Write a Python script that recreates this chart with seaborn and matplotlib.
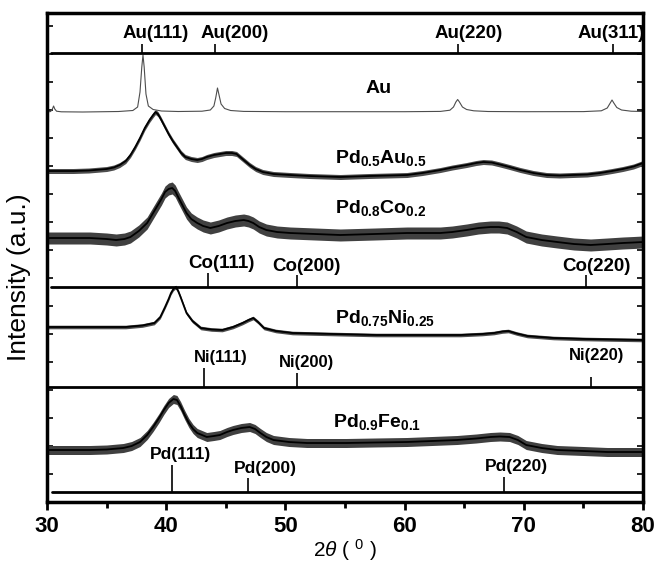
import numpy as np
import pandas as pd
import matplotlib
matplotlib.use('Agg')
import matplotlib.pyplot as plt
from matplotlib.ticker import MultipleLocator
import seaborn as sns

# ---- data (2theta in degrees, intensity above own baseline, a.u.) ----
au_2theta = [30.0, 30.3, 30.45, 30.55, 30.65, 30.8, 31.2, 33.0, 36.0, 37.2, 37.6, 37.8, 37.95,
             38.05, 38.15, 38.3, 38.5, 38.9, 39.6, 41.0, 43.0, 43.7, 44.0, 44.15, 44.3, 44.45,
             44.6, 44.9, 45.4, 46.5, 50.0, 55.0, 60.0, 63.0, 63.8, 64.1, 64.3, 64.45, 64.6,
             64.85, 65.2, 65.8, 67.0, 70.0, 75.0, 76.5, 77.0, 77.25, 77.4, 77.55, 77.8, 78.2,
             79.0, 80.0]
au_int = [0, 0.5, 3, 6, 3, 0.8, 0.2, 0, 0.5, 1.5, 5, 20, 45,
          57, 45, 18, 6, 2.5, 1, 0.5, 0.8, 2, 6, 14, 24, 16,
          8, 3.5, 1.5, 0.6, 0.3, 0.3, 0.3, 0.6, 1.8, 5, 10, 12.5, 10,
          5, 2.5, 1.2, 0.5, 0.3, 0.4, 1.2, 4, 9, 12, 9, 4.5, 2,
          0.8, 0.5]

pdau_2theta = [30, 31, 32.2, 33.5, 35, 35.6, 36.1, 36.6, 37, 37.4, 37.8, 38.2, 38.6, 38.9,
               39.1, 39.3, 39.5, 39.85, 40.2, 40.55, 40.9, 41.25, 41.6, 42.1, 42.6, 43.0, 43.4,
               44.0, 44.5, 45.0, 45.5, 45.9, 46.2, 46.6, 47.0, 47.5, 48.1, 49, 50.4, 52, 54.6,
               57, 60.2, 61.5, 63, 64, 65.2, 66, 66.6, 67.3, 68, 68.8, 69.7, 70.8, 71.9, 73,
               74.1, 75.3, 76.4, 77.4, 78.3, 79.2, 80]
pdau_int = [1, 1, 1, 1.5, 3, 4.5, 7, 11, 17, 25, 34, 44, 52, 57,
            60, 58, 54, 46, 38, 31, 25, 19, 15, 13, 12, 13, 15,
            17, 18, 19, 19, 18, 15, 11, 7, 3, 0, -2, -3, -4, -5,
            -4, -3, -1, 2, 4.5, 7, 9, 10, 9.5, 7.5, 5, 2, -1, -3, -3.5,
            -3, -2.5, -1, 1, 3, 5.5, 9]

pdco_2theta = [30, 32, 33.6, 35, 35.8, 36.5, 37, 37.7, 38.4, 38.8, 39.2, 39.6, 39.9, 40.2,
               40.5, 40.75, 41.0, 41.35, 41.7, 42.1, 42.6, 43.1, 43.7, 44.4, 45.1, 45.8, 46.5,
               46.9, 47.3, 47.8, 48.4, 49.3, 50.4, 52.5, 54.6, 57.5, 60.2, 61.5, 63, 64, 65.2,
               66.2, 67.2, 67.9, 68.6, 69.4, 70.2, 71.5, 72.8, 74.2, 75.6, 77, 78.3, 79.2, 80]
pdco_int = [0, 0, 0, -1, -2, -1, 1, 7, 15, 23, 31, 39, 46, 49,
            50, 47, 41, 33, 25, 19, 15, 12, 10, 12, 15, 17, 18,
            17, 15, 11, 8, 6, 5, 4, 3, 4, 5, 5, 5, 6, 8,
            10, 11, 11, 10, 6, 1, -2, -4, -6, -7, -6, -5, -4.5, -4]

pdni_2theta = [30, 33, 36.6, 38, 39.0, 39.5, 39.9, 40.2, 40.4, 40.6, 40.8, 41.0, 41.2, 41.45,
               41.7, 42.2, 42.9, 43.8, 44.7, 45.6, 46.4, 46.9, 47.3, 47.7, 48.2, 49.2, 50.6,
               54, 57.6, 61, 64.7, 66.5, 67.5, 68.2, 68.7, 69.4, 70.3, 72.5, 75.2, 77.5, 80]
pdni_int = [0, 0, 0, 1.5, 4, 10, 20, 28, 34, 38, 40, 36, 30, 22,
            14, 6, -1, -2.5, -3, 0, 4, 7, 9, 5, -1, -4, -6,
            -7, -8, -8, -8, -7, -6, -4.5, -4, -6.5, -9, -11, -12, -12.5, -13]

pdfe_2theta = [30, 32, 33.6, 35, 36.4, 37.1, 37.8, 38.4, 38.9, 39.4, 39.8, 40.2, 40.6, 40.9,
               41.2, 41.55, 41.9, 42.25, 42.6, 43.0, 43.4, 44.0, 44.5, 45.1, 45.6, 46.3, 47.0,
               47.45, 47.9, 48.4, 49.0, 50.3, 51.8, 53.5, 55.1, 57.5, 60.2, 62.3, 64.4, 66,
               67.2, 68, 68.8, 69.5, 70.2, 71.5, 72.8, 75, 77.0, 80]
pdfe_int = [0, 0, 0, 0.5, 2, 4, 8, 15, 23, 32, 40, 47, 51, 50,
            44, 35, 27, 21, 17, 15, 13, 14, 15, 18, 20, 22, 23,
            21, 17, 13, 10, 8, 7, 7, 7, 7.5, 8, 9, 10, 11.5,
            13, 13.5, 13, 10, 5, 2, 0, -1, -2, -2]

# reference (JCPDS) peak positions and relative stick heights
au_ref = [38.0, 44.1, 64.5, 77.5]
au_ref_h = [9, 9, 9, 9]
au_ref_lab = ['Au(111)', 'Au(200)', 'Au(220)', 'Au(311)']
co_ref = [43.5, 51.0, 75.2]
co_ref_h = [14, 12, 12]
co_ref_lab = ['Co(111)', 'Co(200)', 'Co(220)']
ni_ref = [43.2, 51.0, 75.6]
ni_ref_h = [19, 14, 10]
ni_ref_lab = ['Ni(111)', 'Ni(200)', 'Ni(220)']
pd_ref = [40.45, 46.9, 68.3]
pd_ref_h = [27, 14, 15]
pd_ref_lab = ['Pd(111)', 'Pd(200)', 'Pd(220)']

# ---- style ----
sns.set_theme(style='ticks')
plt.rcParams['font.family'] = ['Liberation Sans', 'DejaVu Sans']
plt.rcParams['mathtext.fontset'] = 'custom'
plt.rcParams['mathtext.rm'] = 'Liberation Sans'
plt.rcParams['mathtext.it'] = 'Liberation Sans:italic'
plt.rcParams['mathtext.bf'] = 'Liberation Sans:bold'
plt.rcParams['text.color'] = 'black'
plt.rcParams['axes.labelcolor'] = 'black'
plt.rcParams['xtick.color'] = 'black'
plt.rcParams['ytick.color'] = 'black'

fig = plt.figure(figsize=(6.55, 5.68), dpi=100)
ax = fig.add_axes([0.0718, 0.1162, 0.9099, 0.8609])

# name, x, y, vertical offset, noise half-width, noise colour
curves = [
    ('Au', au_2theta, au_int, 390, 0, '0.3'),
    ('PdAu', pdau_2theta, pdau_int, 330, 2.5, '0.3'),
    ('PdCo', pdco_2theta, pdco_int, 264, 6.0, '0.25'),
    ('PdNi', pdni_2theta, pdni_int, 175, 1.8, '0.3'),
    ('PdFe', pdfe_2theta, pdfe_int, 52, 4.5, '0.25'),
]
for name, x, y, off, noise, nc in curves:
    df = pd.DataFrame({'2theta': x, 'I': np.array(y, dtype=float) + off})
    if name == 'Au':
        sns.lineplot(data=df, x='2theta', y='I', ax=ax, color='0.3', lw=0.8)
    else:
        ax.fill_between(df['2theta'], df['I'] - noise, df['I'] + noise,
                        color=nc, lw=0)
        sns.lineplot(data=df, x='2theta', y='I', ax=ax, color='black', lw=1.3)

# reference stick patterns
refs = [
    (au_ref, au_ref_h, au_ref_lab, 449, (30.3, 80.0), 13.5,
     [39.1, 45.7, 65.4, 77.3], [11, 11, 11, 11]),
    (co_ref, co_ref_h, co_ref_lab, 215, (30.3, 80.0), 13.5,
     [44.6, 51.8, 76.1], [10, 9, 9]),
    (ni_ref, ni_ref_h, ni_ref_lab, 115, (30.0, 79.8), 12,
     [44.6, 51.8, 76.1], [11, 11, 22]),
    (pd_ref, pd_ref_h, pd_ref_lab, 10, (30.4, 80.0), 12.5,
     [41.2, 48.3, 69.4], [10, 9, 10]),
]
for pos, h, labs, level, span, fs, lab_x, gap in refs:
    ax.plot(span, [level, level], color='black', lw=2)
    ax.vlines(pos, level, level + np.array(h), color='black', lw=1.2)
    for lx, hh, g, lab in zip(lab_x, h, gap, labs):
        ax.text(lx, level + hh + g, lab, ha='center', va='center',
                fontsize=fs, fontweight='bold')

# sample names
ax.text(57.8, 409, 'Au', fontsize=14, fontweight='bold', ha='center', va='baseline')
ax.text(54.2, 338.7, r'$\mathbf{Pd_{0.5}Au_{0.5}}$', fontsize=14, va='baseline')
ax.text(54.2, 288.7, r'$\mathbf{Pd_{0.8}Co_{0.2}}$', fontsize=14, va='baseline')
ax.text(54.2, 178.7, r'$\mathbf{Pd_{0.75}Ni_{0.25}}$', fontsize=14, va='baseline')
ax.text(54.0, 75.3, r'$\mathbf{Pd_{0.9}Fe_{0.1}}$', fontsize=14, va='baseline')

ax.set_xlim(30, 80)
ax.set_ylim(0, 489)
ax.xaxis.set_major_locator(MultipleLocator(10))
ax.xaxis.set_minor_locator(MultipleLocator(5))
ax.yaxis.set_major_locator(MultipleLocator(28))
ax.tick_params(axis='x', which='major', direction='out', length=6, width=2,
               labelsize=16, pad=4)
ax.tick_params(axis='x', which='minor', direction='out', length=4, width=2)
ax.tick_params(axis='y', which='both', direction='in', length=4, width=1.2,
               left=True, right=True, labelleft=False)
for lab in ax.get_xticklabels():
    lab.set_fontweight('bold')
for sp in ax.spines.values():
    sp.set_visible(True)
    sp.set_linewidth(2.5)
    sp.set_color('black')

ax.set_xlabel(r'$2\theta$ ( $^{0}$ )', fontsize=15, labelpad=0)
ax.set_ylabel('Intensity (a.u.)', fontsize=19)
ax.yaxis.set_label_coords(-0.027, 0.46)

fig.savefig('out.png', dpi=100, facecolor='white')
